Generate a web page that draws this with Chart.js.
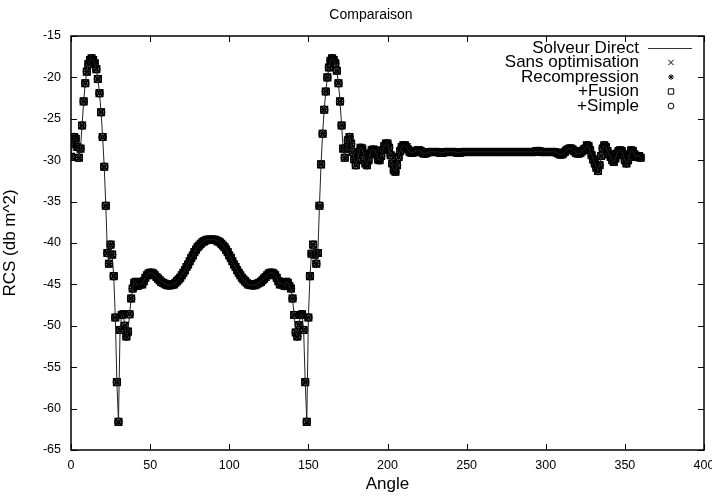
<!DOCTYPE html>
<html>
<head>
<meta charset="utf-8">
<title>Comparaison</title>
<script src="https://cdn.jsdelivr.net/npm/chart.js@4.4.1/dist/chart.umd.min.js"></script>
<style>
    html, body { margin: 0; padding: 0; background: #fff; }
    #wrap { width: 712px; height: 498px; }
</style>
</head>
<body>
<div id="wrap"><canvas id="grafico" width="712" height="498"></canvas></div>
<script>
// angles (degres), un point par degre
const angles = [
    0, 1, 2, 3, 4, 5, 6, 7, 8, 9, 10, 11, 12, 13, 14, 15, 16, 17, 18, 19,
    20, 21, 22, 23, 24, 25, 26, 27, 28, 29, 30, 31, 32, 33, 34, 35, 36, 37, 38, 39,
    40, 41, 42, 43, 44, 45, 46, 47, 48, 49, 50, 51, 52, 53, 54, 55, 56, 57, 58, 59,
    60, 61, 62, 63, 64, 65, 66, 67, 68, 69, 70, 71, 72, 73, 74, 75, 76, 77, 78, 79,
    80, 81, 82, 83, 84, 85, 86, 87, 88, 89, 90, 91, 92, 93, 94, 95, 96, 97, 98, 99,
    100, 101, 102, 103, 104, 105, 106, 107, 108, 109, 110, 111, 112, 113, 114, 115, 116, 117, 118, 119,
    120, 121, 122, 123, 124, 125, 126, 127, 128, 129, 130, 131, 132, 133, 134, 135, 136, 137, 138, 139,
    140, 141, 142, 143, 144, 145, 146, 147, 148, 149, 150, 151, 152, 153, 154, 155, 156, 157, 158, 159,
    160, 161, 162, 163, 164, 165, 166, 167, 168, 169, 170, 171, 172, 173, 174, 175, 176, 177, 178, 179,
    180, 181, 182, 183, 184, 185, 186, 187, 188, 189, 190, 191, 192, 193, 194, 195, 196, 197, 198, 199,
    200, 201, 202, 203, 204, 205, 206, 207, 208, 209, 210, 211, 212, 213, 214, 215, 216, 217, 218, 219,
    220, 221, 222, 223, 224, 225, 226, 227, 228, 229, 230, 231, 232, 233, 234, 235, 236, 237, 238, 239,
    240, 241, 242, 243, 244, 245, 246, 247, 248, 249, 250, 251, 252, 253, 254, 255, 256, 257, 258, 259,
    260, 261, 262, 263, 264, 265, 266, 267, 268, 269, 270, 271, 272, 273, 274, 275, 276, 277, 278, 279,
    280, 281, 282, 283, 284, 285, 286, 287, 288, 289, 290, 291, 292, 293, 294, 295, 296, 297, 298, 299,
    300, 301, 302, 303, 304, 305, 306, 307, 308, 309, 310, 311, 312, 313, 314, 315, 316, 317, 318, 319,
    320, 321, 322, 323, 324, 325, 326, 327, 328, 329, 330, 331, 332, 333, 334, 335, 336, 337, 338, 339,
    340, 341, 342, 343, 344, 345, 346, 347, 348, 349, 350, 351, 352, 353, 354, 355, 356, 357, 358, 359,
    360
];

// RCS (db m^2)
const rcsValues = [
    -29.6, -28.0, -27.2, -27.4, -28.4, -29.7, -28.6, -25.8, -22.9, -20.7,
    -19.3, -18.4, -17.9, -17.7, -17.9, -18.3, -19.0, -20.2, -21.9, -24.2,
    -27.2, -30.8, -35.5, -41.2, -42.5, -40.2, -41.4, -44.0, -49.0, -56.8,
    -61.6, -50.5, -48.7, -48.6, -50.0, -51.3, -50.7, -48.6, -46.7, -45.5,
    -44.8, -44.7, -45.2, -45.0, -44.8, -45.0, -44.6, -44.2, -43.9, -43.7,
    -43.6, -43.6, -43.7, -43.9, -44.1, -44.3, -44.5, -44.7, -44.8, -44.9,
    -45.0, -45.1, -45.1, -45.1, -45.0, -45.0, -44.8, -44.6, -44.4, -44.2,
    -43.9, -43.6, -43.3, -42.9, -42.6, -42.2, -41.8, -41.5, -41.1, -40.8,
    -40.5, -40.3, -40.1, -39.9, -39.8, -39.7, -39.6, -39.6, -39.6, -39.6,
    -39.6, -39.6, -39.7, -39.8, -39.9, -40.1, -40.3, -40.5, -40.8, -41.1,
    -41.5, -41.8, -42.2, -42.6, -42.9, -43.3, -43.6, -43.9, -44.2, -44.4,
    -44.6, -44.8, -45.0, -45.0, -45.1, -45.1, -45.1, -45.0, -44.9, -44.8,
    -44.7, -44.5, -44.3, -44.1, -43.9, -43.7, -43.6, -43.6, -43.7, -43.9,
    -44.2, -44.6, -45.0, -44.8, -45.0, -45.2, -44.7, -44.8, -45.2, -45.5,
    -46.7, -48.7, -50.8, -51.3, -49.9, -48.7, -48.6, -50.5, -56.8, -61.6,
    -49.0, -44.0, -41.3, -40.2, -41.4, -42.5, -41.2, -35.5, -30.5, -26.8,
    -23.9, -21.7, -20.0, -18.8, -18.0, -17.7, -17.9, -18.3, -19.2, -20.7,
    -22.9, -25.8, -28.6, -29.7, -28.6, -27.6, -27.2, -28.0, -29.0, -29.9,
    -30.6, -30.0, -29.0, -28.5, -28.6, -29.4, -30.4, -30.6, -30.0, -29.2,
    -28.8, -28.7, -28.8, -29.3, -29.9, -30.0, -29.5, -28.8, -28.3, -28.0,
    -28.0, -28.5, -29.4, -30.4, -31.2, -31.4, -30.6, -29.6, -28.9, -28.4,
    -28.2, -28.2, -28.4, -28.7, -29.0, -29.1, -29.1, -29.0, -28.9, -28.8,
    -28.8, -28.9, -29.1, -29.2, -29.2, -29.1, -29.0, -29.0, -29.0, -29.0,
    -29.0, -29.0, -29.0, -29.1, -29.1, -29.1, -29.0, -29.0, -29.0, -29.0,
    -29.0, -29.0, -29.0, -29.0, -29.1, -29.1, -29.1, -29.0, -29.0, -29.0,
    -29.0, -29.0, -29.0, -29.0, -29.0, -29.0, -29.0, -29.0, -29.0, -29.0,
    -29.0, -29.0, -29.0, -29.0, -29.0, -29.0, -29.0, -29.0, -29.0, -29.0,
    -29.0, -29.0, -29.0, -29.0, -29.0, -29.0, -29.0, -29.0, -29.0, -29.0,
    -29.0, -29.0, -29.0, -29.0, -29.0, -29.0, -29.0, -29.0, -29.0, -29.0,
    -29.0, -29.0, -29.0, -29.0, -28.9, -28.9, -28.9, -29.0, -29.0, -29.0,
    -29.0, -29.0, -29.0, -29.0, -29.0, -29.0, -29.0, -29.1, -29.2, -29.3,
    -29.3, -29.2, -29.0, -28.8, -28.7, -28.6, -28.6, -28.7, -28.9, -29.1,
    -29.2, -29.2, -29.1, -28.9, -28.7, -28.6, -28.2, -28.3, -28.8, -29.4,
    -29.9, -30.4, -30.9, -31.3, -30.6, -29.5, -28.6, -28.2, -28.4, -28.9,
    -29.3, -29.6, -30.0, -30.2, -29.8, -29.2, -28.9, -28.8, -28.9, -29.4,
    -30.0, -30.4, -30.0, -29.3, -28.8, -28.9, -29.3, -29.6, -29.5, -29.5,
    -29.7
];

// les 4 variantes se superposent a la solution directe
const rcsDirect = rcsValues;
const rcsSansOptimisation = rcsValues;
const rcsRecompression = rcsValues;
const rcsFusion = rcsValues;
const rcsSimple = rcsValues;

const chartTitle = "Comparaison";
const seriesLabels = ["Solveur Direct", "Sans optimisation", "Recompression", "+Fusion", "+Simple"];
const xTicks = [0, 50, 100, 150, 200, 250, 300, 350, 400];
const yTicks = [-65, -60, -55, -50, -45, -40, -35, -30, -25, -20, -15];

const markerStyles = ["crossRot", "star", "rect", "circle"];
const markerRadius = [4.8, 3.6, 4.8, 3.6];
const FONT = '"Liberation Sans", Arial, Helvetica, sans-serif';

function toPoints(ys) {
    return angles.map((a, i) => ({ x: a, y: ys[i] }));
}

// cadre + graduations vers l'interieur, facon gnuplot
const cadre = {
    id: 'cadre',
    afterDatasetsDraw(chart) {
        const { ctx, chartArea: a, scales: { x, y } } = chart;
        ctx.save();
        ctx.strokeStyle = '#000';
        ctx.lineWidth = 1;
        ctx.beginPath();
        xTicks.forEach(v => {
            const px = Math.round(x.getPixelForValue(v)) + 0.5;
            ctx.moveTo(px, a.bottom); ctx.lineTo(px, a.bottom - 6);
            ctx.moveTo(px, a.top); ctx.lineTo(px, a.top + 6);
        });
        yTicks.forEach(v => {
            const py = Math.round(y.getPixelForValue(v)) + 0.5;
            ctx.moveTo(a.left, py); ctx.lineTo(a.left + 6, py);
            ctx.moveTo(a.right, py); ctx.lineTo(a.right - 6, py);
        });
        ctx.stroke();
        ctx.lineWidth = 1.5;
        ctx.strokeRect(a.left, a.top, a.right - a.left, a.bottom - a.top);
        ctx.restore();
    }
};

// titre + legende a droite du texte, comme la "key" gnuplot
const cle = {
    id: 'cle',
    afterDraw(chart) {
        const ctx = chart.ctx;
        ctx.save();
        ctx.fillStyle = '#000';
        ctx.textBaseline = 'middle';
        ctx.textAlign = 'center';
        ctx.font = '14px ' + FONT;
        ctx.fillText(chartTitle, 371, 15);

        ctx.font = '17px ' + FONT;
        ctx.textAlign = 'right';
        ctx.strokeStyle = '#000';
        ctx.lineWidth = 1;
        seriesLabels.forEach((label, i) => {
            const yy = 48 + i * 14.5;
            ctx.fillText(label, 639, yy);
            if (i === 0) {
                ctx.strokeStyle = '#333';
                ctx.beginPath();
                ctx.moveTo(648, yy + 0.5);
                ctx.lineTo(692, yy + 0.5);
                ctx.stroke();
                ctx.strokeStyle = '#000';
            } else {
                ctx.fillStyle = 'rgba(0,0,0,0)';
                Chart.helpers.drawPoint(ctx, {
                    pointStyle: markerStyles[i - 1],
                    radius: markerRadius[i - 1] * 0.8,
                    borderWidth: 1,
                    rotation: 0
                }, 671, yy);
                ctx.fillStyle = '#000';
            }
        });
        ctx.restore();
    }
};

const markerSeries = [rcsSansOptimisation, rcsRecompression, rcsFusion, rcsSimple];

const datasets = [{
    label: seriesLabels[0],
    data: toPoints(rcsDirect),
    showLine: true,
    borderColor: '#222',
    borderWidth: 1,
    pointRadius: 0,
    fill: false,
    tension: 0
}].concat(markerSeries.map((s, i) => ({
    label: seriesLabels[i + 1],
    data: toPoints(s),
    showLine: false,
    pointStyle: markerStyles[i],
    pointRadius: markerRadius[i],
    pointBorderWidth: 1.3,
    pointBorderColor: '#000',
    pointBackgroundColor: 'rgba(0,0,0,0)'
})));

const ctx = document.getElementById('grafico').getContext('2d');
new Chart(ctx, {
    type: 'scatter',
    data: { datasets },
    plugins: [cadre, cle],
    options: {
        responsive: false,
        animation: false,
        devicePixelRatio: 1,
        layout: { padding: { left: 0, right: 8, top: 36, bottom: 0 } },
        plugins: {
            legend: { display: false },
            tooltip: { enabled: false },
            title: { display: false }
        },
        scales: {
            x: {
                type: 'linear',
                min: 0,
                max: 400,
                afterBuildTicks: s => { s.ticks = xTicks.map(v => ({ value: v })); },
                ticks: { color: '#000', font: { family: FONT, size: 12.5 }, padding: 8, maxRotation: 0 },
                grid: { display: false, drawTicks: false },
                border: { display: false },
                title: {
                    display: true,
                    text: 'Angle',
                    color: '#000',
                    font: { family: FONT, size: 17 },
                    padding: { top: 0, bottom: 3 }
                },
                afterFit: s => { s.height = 48; s.paddingLeft = 0; s.paddingRight = 0; }
            },
            y: {
                type: 'linear',
                min: -65,
                max: -15,
                afterBuildTicks: s => { s.ticks = yTicks.map(v => ({ value: v })); },
                ticks: { color: '#000', font: { family: FONT, size: 12.5 }, padding: 10 },
                grid: { display: false, drawTicks: false },
                border: { display: false },
                title: {
                    display: true,
                    text: 'RCS (db m^2)',
                    color: '#000',
                    font: { family: FONT, size: 17 },
                    padding: { top: 0, bottom: 0 }
                },
                afterFit: s => { s.width = 71; s.paddingTop = 0; s.paddingBottom = 0; }
            }
        }
    }
});
</script>
</body>
</html>
